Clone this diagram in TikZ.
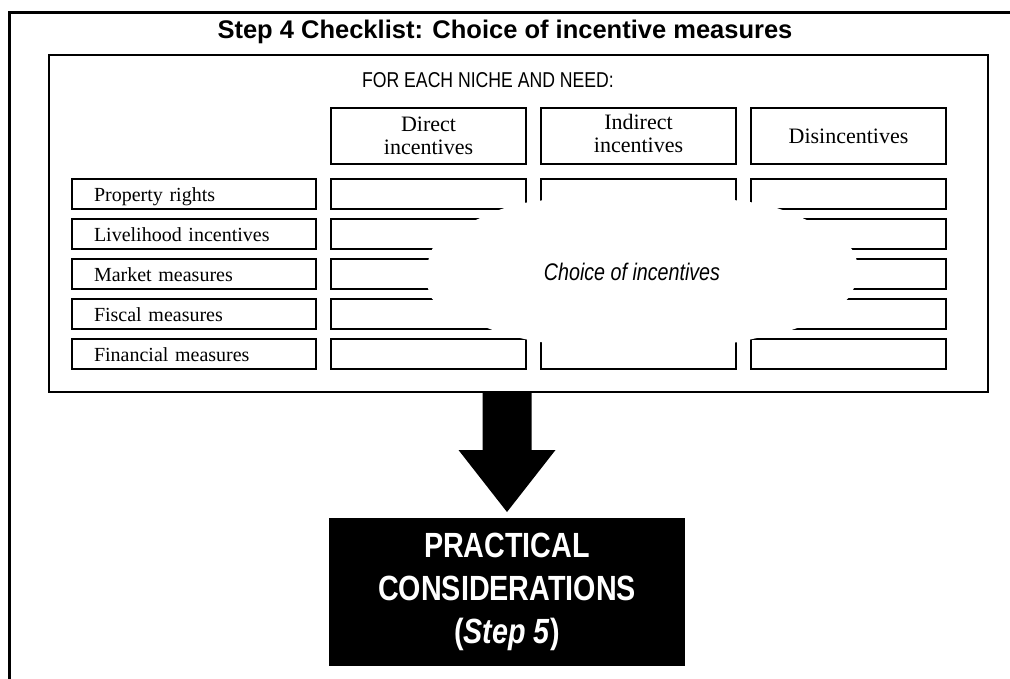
\documentclass[tikz,border=0pt]{standalone}
\usepackage{fontspec}
\setmainfont{Liberation Serif}
\newfontfamily\arialfont{Liberation Sans}
\newfontfamily\narrowfont[FakeStretch=0.82]{Liberation Sans}
\usepackage{tikz}
\usetikzlibrary{positioning}

\tikzset{
  rowlabel/.style={draw, line width=1.2pt, outer sep=0pt, inner xsep=22pt, inner ysep=0pt,
    text width=200pt, minimum height=30pt, align=left,
    font=\fontsize{20}{22}\selectfont, text height=16pt, text depth=1pt},
  cell/.style={draw, line width=1.2pt, outer sep=0pt, inner sep=0pt,
    minimum width=195pt, minimum height=30pt},
  colhead/.style={cell, minimum height=56pt, align=center, font=\fontsize{22}{23}\selectfont},
}

\begin{document}
\begin{tikzpicture}[x=1pt, y=-1pt]
    \useasboundingbox (0,0) rectangle (1010,679);
    \draw[line width=3pt] (9.5,679) -- (9.5,12.5) -- (1010,12.5);

    \node[font=\arialfont\bfseries\fontsize{25.5}{30}\selectfont] (title) at (505,32)
        {Step 4 Checklist: Choice of incentive measures};
    \node[draw, line width=1.3pt, outer sep=0pt, anchor=north west,
        minimum width=939pt, minimum height=337pt] (frame) at (49,55) {};
    \node[font=\narrowfont\fontsize{21.5}{25}\selectfont] (each) at (488,80)
        {FOR EACH NICHE AND NEED:};

    % rows of measures
    \node[rowlabel, anchor=north west] (prop) at (72,179) {Property rights};
    \node[cell, right=15pt of prop] (propd) {};
    \node[cell, right=15pt of propd] (propi) {};
    \node[cell, right=15pt of propi] (propx) {};

    \node[rowlabel, below=10pt of prop] (live) {Livelihood incentives};
    \node[cell, right=15pt of live] (lived) {};
    \node[cell, right=15pt of lived] (livei) {};
    \node[cell, right=15pt of livei] (livex) {};

    \node[rowlabel, below=10pt of live] (market) {Market measures};
    \node[cell, right=15pt of market] (marketd) {};
    \node[cell, right=15pt of marketd] (marketi) {};
    \node[cell, right=15pt of marketi] (marketx) {};

    \node[rowlabel, below=10pt of market] (fiscal) {Fiscal measures};
    \node[cell, right=15pt of fiscal] (fiscald) {};
    \node[cell, right=15pt of fiscald] (fiscali) {};
    \node[cell, right=15pt of fiscali] (fiscalx) {};

    \node[rowlabel, below=10pt of fiscal] (finance) {Financial measures};
    \node[cell, right=15pt of finance] (financed) {};
    \node[cell, right=15pt of financed] (financei) {};
    \node[cell, right=15pt of financei] (financex) {};

    % column heads
    \node[colhead, above=15pt of propd] (direct) {Direct\\incentives};
    \node[colhead, above=15pt of propi] (indirect) {Indirect\\incentives\vphantom{g}};
    \node[colhead, above=15pt of propx] (disinc) {Disincentives};

    % cloud over the cells
    \fill[white] plot[smooth cycle, tension=0.6] coordinates {
        (515,205) (560,199) (640,197) (720,199) (765,205) (800,217)
        (840,238) (855,255) (857,275) (852,292) (840,305) (800,327)
        (757,338) (720,344) (640,346) (560,344) (520,338) (485,327)
        (440,305) (429,292) (427,272) (430,255) (440,240) (478,219)};
    \node[font=\narrowfont\itshape\fontsize{24}{28}\selectfont] (choice) at (632,272)
        {Choice of incentives};

    \node[fill=black, text=white, inner sep=0pt, align=center,
        minimum width=356pt, minimum height=148pt,
        font=\narrowfont\bfseries\fontsize{35}{43}\selectfont] (step5) at (507,592)
        {PRACTICAL\\CONSIDERATIONS\\(\textit{Step 5})};
    \fill (frame.south -| step5.north) ++(-24.5,0) -- ++(49,0) -- ++(0,58) -- ++(24,0)
        -- ++(-48.5,62) -- ++(-48.5,-62) -- ++(24,0) -- cycle;
\end{tikzpicture}
\end{document}
